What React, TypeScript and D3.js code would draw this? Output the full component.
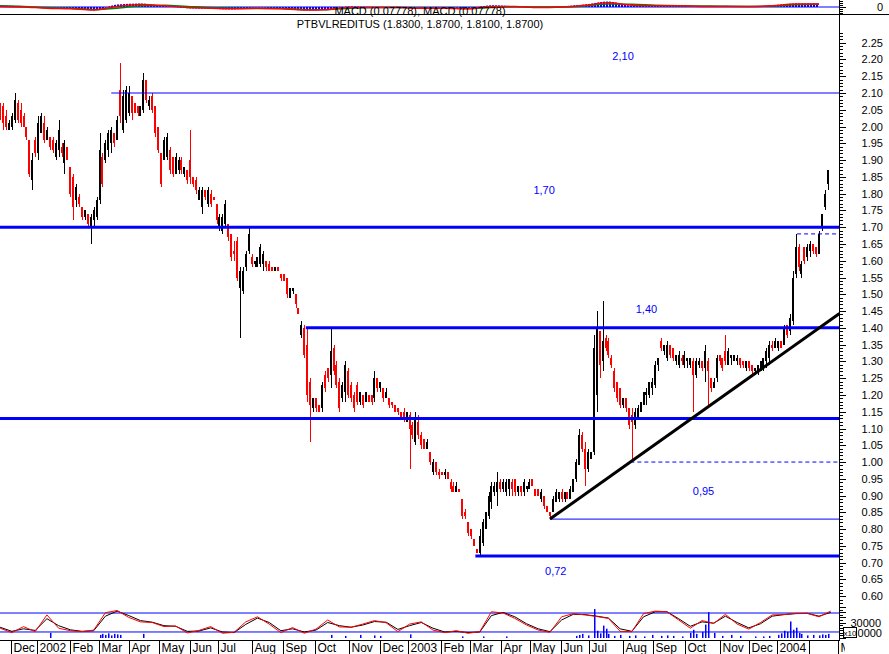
import React from "react";
import * as d3 from "d3";

// ---------- DATA ----------
// Two-day candles, [open, high, low, close] in cents, 22 Nov 2001 .. 19 Feb 2004
const bars: number[][] = [
[205,207,202,203],[206,207,199,201],[203,205,199,200],[199,202,199,201],[200,204,199,203],
[202,210,201,208],[207,208,201,202],[205,207,200,201],[203,204,200,200],[200,200,196,197],
[196,196,185,186],[184,192,181,190],[196,197,191,192],[192,203,190,201],[198,204,198,203],
[201,203,195,196],[196,200,196,199],[197,197,193,194],[196,197,192,193],[191,196,190,195],
[193,202,191,199],[194,195,191,192],[189,196,186,195],[194,194,190,190],[188,188,179,180],
[185,186,172,176],[178,183,176,182],[179,180,176,177],[176,176,172,173],[173,175,172,175],
[174,174,170,171],[170,174,165,173],[172,176,170,175],[173,179,172,178],[178,198,177,193],
[191,192,182,183],[190,196,189,195],[193,199,191,198],[195,200,192,199],[198,198,194,195],
[196,203,196,202],[211,219,201,203],[199,211,198,209],[202,212,201,211],[204,212,203,210],
[209,209,202,204],[207,207,204,204],[206,206,203,204],[203,206,203,206],[205,216,204,214],
[214,214,207,208],[206,209,205,208],[209,210,204,205],[206,206,197,198],[200,200,192,193],
[192,192,182,183],[190,197,190,196],[191,198,190,197],[193,194,186,187],[191,191,185,186],
[186,192,186,191],[187,191,186,190],[190,191,186,187],[186,188,185,188],[187,187,183,184],
[190,199,183,185],[185,185,182,183],[184,185,180,181],[178,182,178,181],[176,182,174,181],
[181,181,178,179],[177,182,176,181],[180,181,176,177],[179,179,178,178],[177,177,171,172],
[170,174,169,173],[169,174,168,173],[171,178,170,177],[171,171,166,167],[168,168,160,161],
[163,166,160,162],[166,167,154,155],[152,158,137,157],[151,158,150,157],[158,163,157,162],
[163,170,162,168],[161,162,158,159],[159,160,158,160],[158,161,158,161],[159,165,158,164],
[159,163,157,162],[160,160,157,158],[159,160,157,157],[158,158,157,157],[157,158,157,158],
[158,158,157,157],[156,156,154,155],[156,156,154,154],[155,155,149,150],[149,152,149,152],
[151,152,150,152],[150,150,146,147],[146,146,144,144],[138,142,137,141],[140,141,131,132],
[135,140,118,120],[124,125,106,117],[116,119,115,119],[119,119,115,116],[117,117,115,115],
[116,124,115,123],[126,127,121,122],[128,128,124,125],[126,140,122,133],[134,135,126,127],
[129,130,122,123],[124,125,115,116],[119,124,118,123],[121,130,118,129],[127,128,119,120],
[123,124,118,119],[120,121,115,116],[123,124,117,118],[118,121,117,121],[120,120,116,117],
[118,121,118,121],[120,120,118,118],[120,120,117,118],[119,127,118,125],[125,125,121,122],
[122,124,121,124],[122,122,118,119],[119,122,119,121],[119,119,116,117],[118,118,116,117],
[117,117,115,115],[116,116,114,115],[115,115,113,113],[115,116,112,113],[112,115,112,115],
[114,115,98,110],[111,112,107,108],[106,115,105,113],[112,114,107,108],[108,109,104,105],
[107,107,104,104],[104,107,104,106],[103,103,99,100],[97,101,96,100],[100,100,96,97],
[97,98,95,96],[97,97,96,96],[96,98,95,97],[97,97,95,95],[94,95,91,92],
[93,94,91,91],[91,94,91,93],[92,92,91,91],[89,89,83,84],[85,86,83,84],
[82,82,78,79],[80,80,77,78],[77,77,75,75],[74,74,73,73],[73,80,72,78],
[76,83,75,82],[80,85,80,85],[84,91,83,90],[88,94,86,93],[91,94,90,93],
[91,97,87,94],[94,95,91,92],[92,95,91,94],[91,95,90,94],[92,95,90,95],
[94,95,90,92],[95,95,90,91],[91,93,90,93],[93,93,90,91],[91,95,90,94],
[92,93,91,93],[92,95,92,94],[95,95,93,93],[92,92,90,90],[92,92,90,90],
[89,92,88,91],[90,90,86,87],[87,87,85,85],[85,85,83,84],[85,90,85,89],
[88,92,88,91],[89,91,88,91],[91,92,88,89],[89,91,88,91],[91,91,89,89],
[89,93,89,92],[91,95,91,95],[95,101,94,100],[99,110,99,108],[108,109,103,104],
[104,106,93,98],[98,104,97,103],[101,103,101,103],[103,138,102,134],[120,145,115,140],
[139,139,125,129],[130,148,127,136],[137,138,133,134],[136,137,131,132],[131,132,128,129],
[127,128,121,122],[124,124,118,119],[122,122,116,117],[117,119,116,119],[119,119,115,116],
[116,116,110,111],[114,116,100,112],[111,116,110,115],[113,117,113,116],[115,118,115,118],
[117,121,117,121],[120,122,117,121],[120,124,119,124],[122,125,120,124],[123,130,122,129],
[129,131,127,131],[136,137,133,134],[133,135,132,135],[131,136,130,135],[135,135,131,132],
[134,134,130,131],[130,132,129,132],[129,133,128,132],[131,132,129,130],[129,133,128,132],
[130,131,128,131],[129,131,128,131],[130,131,115,126],[126,131,125,130],[129,131,128,130],
[130,130,127,128],[128,135,124,133],[130,131,116,127],[125,125,121,122],[122,125,122,124],
[125,132,124,131],[132,132,129,130],[131,131,127,128],[133,138,129,130],[129,134,129,133],
[131,132,129,132],[130,132,130,132],[130,132,129,131],[131,131,128,129],[130,130,128,129],
[128,130,127,130],[130,130,127,128],[129,129,126,127],[127,128,126,128],[127,129,126,129],
[128,130,127,130],[128,131,127,131],[130,134,128,133],[131,136,129,135],[135,136,133,134],
[134,137,134,136],[134,136,133,136],[136,136,134,134],[135,141,135,140],[141,141,137,138],
[139,144,138,143],[142,157,141,155],[156,168,155,164],[164,165,157,158],[156,160,155,159],
[164,164,159,160],[161,165,160,164],[163,166,161,165],[165,165,162,163],[164,164,161,162],
[162,169,162,168],[170,174,169,174],[176,181,175,180],[183,187,181,187],
];
const firstBarDate = "2001-11-22";
const lastBarDate = "2004-02-19";

// sparse volume: [bar index, volume]
const volume: number[][] = [
[17,10000],[34,6000],[35,8000],[36,6000],[37,9000],[38,5000],[39,8000],[40,7000],[41,6000],[49,8000],
[113,6000],[118,4000],[123,6000],[128,5000],[130,4000],[140,7000],[158,3000],[165,3000],[173,3000],
[197,4000],[198,6000],[199,8000],[201,5000],[203,56000],[204,14000],[205,9000],[206,24000],[207,18000],
[208,8000],[210,4000],[212,6000],[215,4000],[217,5000],[220,3000],[223,6000],[226,4000],[228,5000],
[230,4000],[233,3000],[236,10000],[237,16000],[238,8000],[240,12000],[241,26000],[242,50000],[244,10000],
[247,4000],[250,6000],[253,4000],[258,3000],[261,3000],[263,4000],[266,6000],[267,9000],[268,14000],
[269,12000],[270,32000],[271,16000],[272,20000],[273,10000],[274,8000],[276,5000],[278,6000],[280,5000],
[281,7000],[282,6000],[283,8000],
];

// oscillator, every 4 bars
const oscRed = [32,18,37,21,74,32,24,21,26,81,88,66,52,50,37,39,17,25,37,16,19,52,68,45,18,34,16,29,58,36,35,45,56,49,21,45,52,26,18,24,16,21,84,80,63,42,26,19,68,78,74,69,63,22,21,78,86,84,58,32,56,47,76,45,29,50,74,75,79,79,68,86];
const oscBlack = [35,22,30,25,62,40,27,22,24,70,86,72,56,51,40,38,22,23,33,20,18,44,64,50,24,30,20,26,50,40,35,42,53,51,28,40,50,32,20,22,18,20,72,82,68,46,30,21,58,76,75,70,64,30,22,68,84,84,62,38,52,48,70,50,33,46,70,75,78,79,70,82];

// MACD, every 8 bars
const macdHist = [0.015,0.005,-0.005,-0.01,-0.03,0.02,0.03,0.01,-0.01,-0.015,-0.02,-0.005,-0.015,-0.03,-0.02,0.005,0,-0.005,-0.01,-0.005,-0.01,0.015,0.005,-0.005,0.005,0.02,0.045,0.01,0.015,0.01,0,0.01,0,0.015,0.03,0.03];
const macdLine = [0.005,0,-0.01,-0.015,-0.025,0.005,0.02,0.01,-0.005,-0.01,-0.015,-0.01,-0.015,-0.025,-0.02,-0.005,-0.005,-0.005,-0.01,-0.01,-0.015,0.005,0.005,-0.005,0,0.015,0.035,0.015,0.01,0.01,0.005,0.005,0.005,0.01,0.025,0.025];
const macdSignal = [0.01,0.005,-0.005,-0.01,-0.02,-0.01,0.01,0.015,0.005,-0.005,-0.01,-0.012,-0.012,-0.02,-0.022,-0.01,-0.005,-0.005,-0.008,-0.01,-0.012,-0.005,0.002,0,0,0.008,0.025,0.022,0.015,0.01,0.008,0.006,0.005,0.008,0.018,0.022];

// support / resistance levels: value, start bar, weight, dashed
const levels = [
  { v: 2.10, from: 38, w: 1, dash: false },
  { v: 1.70, from: -2, w: 3, dash: false },
  { v: 1.40, from: 104.5, w: 3, dash: false },
  { v: 1.13, from: -2, w: 3, dash: false },
  { v: 0.72, from: 162.5, w: 3, dash: false },
  { v: 0.83, from: 188, w: 1, dash: false },
  { v: 1.00, from: 215.5, w: 1, dash: true },
  { v: 1.68, from: 272.5, w: 1, dash: true },
];
const trend = [{ k: 188, v: 0.83 }, { k: 287, v: 1.443 }];
const levelLabels = [
  { t: "2,10", k: 213, p: 2.21 },
  { t: "1,70", k: 186, p: 1.81 },
  { t: "1,40", k: 221, p: 1.455 },
  { t: "0,95", k: 240.5, p: 0.915 },
  { t: "0,72", k: 190, p: 0.675 },
];

const holidays = ["2001-12-24","2001-12-25","2001-12-31","2002-01-01","2002-03-29","2002-04-01","2002-04-25","2002-05-01","2002-05-30","2002-06-10","2002-08-15","2002-12-24","2002-12-25","2002-12-31","2003-01-01","2003-04-18","2003-04-21","2003-04-25","2003-05-01","2003-06-10","2003-06-19","2003-08-15","2003-12-08","2003-12-24","2003-12-25","2003-12-31","2004-01-01"];
const monthNames = ["Jan","Feb","Mar","Apr","May","Jun","Jul","Aug","Sep","Oct","Nov","Dec"];
const title = "PTBVLREDITUS (1.8300, 1.8700, 1.8100, 1.8700)";
const macdTitle = "MACD (0.07778), MACD (0.07778)";

// ---------- CHART ----------
const W = 889, H = 654;
const AX = 839.5;
const FONT = "'Liberation Sans', Arial, sans-serif";
const BLUE = "#0000ff", RED = "#ff0000";

const fmt = d3.timeFormat("%Y-%m-%d");
const hol = new Set(holidays);
const days: Date[] = [];
for (let d = new Date(2001, 10, 1); d <= new Date(2004, 2, 31); d = d3.timeDay.offset(d, 1)) {
  const wd = d.getDay();
  if (wd === 0 || wd === 6 || hol.has(fmt(d))) continue;
  days.push(d);
}
const idx = (s: string) => days.findIndex((d) => fmt(d) >= s);

const xCal = d3.scaleLinear().domain([idx("2001-12-03"), idx("2004-02-02")]).range([10.5, 808.5]);
const xBar = d3.scaleLinear().domain([0, bars.length - 1]).range([xCal(idx(firstBarDate)), xCal(idx(lastBarDate))]);
const yP = d3.scaleLinear().domain([0.72, 2.10]).range([556, 93]);
const yV = d3.scaleLinear().domain([0, 30000]).range([638, 622.5]);
const yO = d3.scaleLinear().domain([0, 100]).range([638.3, 606.7]);
const yM = d3.scaleLinear().domain([-0.05, 0.05]).range([13, 1]);

// the month holding the last bar is left unlabeled, as in the source chart
const lastMonthKey = lastBarDate.slice(0, 7);
const months: { x: number; label: string }[] = [];
days.forEach((d, i) => {
  if (i > 0 && d.getMonth() !== days[i - 1].getMonth()) {
    const x = Math.round(xCal(i)) + 0.5;
    const key = fmt(d).slice(0, 7);
    const label = key === lastMonthKey ? "" : d.getMonth() === 0 ? String(d.getFullYear()) : monthNames[d.getMonth()];
    if (x > -5 && x < 846) months.push({ x, label });
  }
});

export default function App() {
  const oscLine = (arr: number[]) =>
    d3.line<number>().x((_, i) => xBar(i * 4)).y((v) => yO(v))(arr) || "";
  const mLine = (arr: number[]) =>
    d3.line<number>().x((_, i) => xBar(i * 8)).y((v) => yM(v)).curve(d3.curveMonotoneX)(arr) || "";
  const mArea = d3.area<number>().x((_, i) => xBar(i * 8)).y0(yM(0)).y1((v) => yM(v)).curve(d3.curveMonotoneX)(macdHist) || "";

  const priceTicks = d3.range(58, 229);
  const volTicks = d3.range(0, 65000, 5000);

  return (
    <div style={{ position: "absolute", left: 0, top: 0, width: W, height: H, background: "#fff" }}>
      <svg width={W} height={H} style={{ display: "block", fontFamily: FONT }}>
        <defs>
          <clipPath id="main"><rect x={0} y={15} width={AX} height={591} /></clipPath>
          <clipPath id="top"><rect x={0} y={0} width={AX} height={14} /></clipPath>
          <clipPath id="bot"><rect x={0} y={600} width={AX} height={40} /></clipPath>
          <clipPath id="months"><rect x={0} y={638} width={845} height={16} /></clipPath>
          <pattern id="histStripes" width={3} height={20} patternUnits="userSpaceOnUse">
            <rect x={0} y={0} width={2} height={20} fill={BLUE} />
          </pattern>
        </defs>
        <rect width={W} height={H} fill="#fff" />

        {/* MACD strip */}
        <g clipPath="url(#top)">
          <path d={mArea} fill="url(#histStripes)" />
          <line x1={0} x2={AX} y1={yM(0)} y2={yM(0)} stroke={BLUE} strokeWidth={1} />
          <path d={mLine(macdSignal)} fill="none" stroke="#008000" strokeWidth={1.5} />
          <path d={mLine(macdLine)} fill="none" stroke={RED} strokeWidth={1.5} />
        </g>
        <text x={420} y={14.5} fontSize={11} textAnchor="middle" fill="#000">{macdTitle}</text>
        <line x1={0} x2={W} y1={14.5} y2={14.5} stroke="#000" strokeWidth={1} />

        <text x={420} y={28} fontSize={11} textAnchor="middle" fill="#000">{title}</text>

        {/* main price panel */}
        <g clipPath="url(#main)" shapeRendering="crispEdges">
          {bars.map((b, k) => {
            const [o, h, l, c] = b.map((v) => v / 100);
            const cx = Math.round(xBar(k));
            const col = c >= o ? "#000" : RED;
            const yt = yP(Math.max(o, c)), yb = yP(Math.min(o, c));
            return (
              <g key={k} fill={col}>
                <rect x={cx} y={yP(h)} width={1} height={Math.max(1, yP(l) - yP(h))} />
                <rect x={cx - 1} y={yt} width={2} height={Math.max(1, yb - yt)} />
              </g>
            );
          })}
        </g>
        <g clipPath="url(#main)">
          {levels.map((lv, i) => (
            <line key={i} x1={Math.max(0, xBar(lv.from))} x2={AX} y1={yP(lv.v)} y2={yP(lv.v)}
              stroke={BLUE} strokeWidth={lv.w} strokeDasharray={lv.dash ? "4,3" : undefined} />
          ))}
          <line x1={xBar(trend[0].k)} y1={yP(trend[0].v)} x2={xBar(trend[1].k)} y2={yP(trend[1].v)}
            stroke="#000" strokeWidth={3} />
          {levelLabels.map((lb, i) => (
            <text key={i} x={xBar(lb.k)} y={yP(lb.p) + 4} fontSize={11} textAnchor="middle" fill={BLUE}>{lb.t}</text>
          ))}
        </g>

        {/* lower panel */}
        <g clipPath="url(#bot)">
          {volume.map(([k, v], i) => (
            <rect key={i} x={Math.round(xBar(k))} y={yV(v)} width={1.5} height={yV(0) - yV(v)} fill={BLUE} />
          ))}
          <line x1={0} x2={AX} y1={yO(80)} y2={yO(80)} stroke={BLUE} strokeWidth={1} />
          <line x1={0} x2={AX} y1={yO(20)} y2={yO(20)} stroke={BLUE} strokeWidth={1} />
          <path d={oscLine(oscBlack)} fill="none" stroke="#000" strokeWidth={1} />
          <path d={oscLine(oscRed)} fill="none" stroke={RED} strokeWidth={1} />
        </g>

        {/* right axis */}
        <g shapeRendering="crispEdges" stroke="#000">
          <line x1={AX} x2={AX} y1={0} y2={640} />
          {d3.range(1, 14, 2).map((y) => (
            <line key={"m" + y} x1={AX} x2={AX + (y === 7 ? 6 : 3)} y1={y + 0.5} y2={y + 0.5} />
          ))}
          {priceTicks.map((t) => (
            <line key={"p" + t} x1={AX} x2={AX + (t % 5 === 0 ? 6 : 3)} y1={Math.round(yP(t / 100)) + 0.5} y2={Math.round(yP(t / 100)) + 0.5} />
          ))}
          {volTicks.map((t) => (
            <line key={"v" + t} x1={AX} x2={AX + (t % 10000 === 0 ? 6 : 3)} y1={Math.round(yV(t)) + 0.5} y2={Math.round(yV(t)) + 0.5} />
          ))}
        </g>
        <text x={883} y={11} fontSize={11} textAnchor="end">0</text>
        {priceTicks.filter((t) => t % 5 === 0 && t >= 60 && t <= 225).map((t) => (
          <text key={t} x={883} y={yP(t / 100) + 4} fontSize={11} textAnchor="end">{d3.format(".2f")(t / 100)}</text>
        ))}
        <text x={881} y={yV(30000) + 4} fontSize={11} textAnchor="end">30000</text>
        <text x={882} y={yV(10000) + 4.5} fontSize={11} textAnchor="end">0000</text>
        <rect x={843.5} y={627.5} width={13} height={10} fill="#fff" stroke="#000" strokeWidth={1} />
        <text x={850} y={635.5} fontSize={8} textAnchor="middle">x10</text>

        {/* time axis */}
        <line x1={0} x2={AX} y1={640.5} y2={640.5} stroke="#000" shapeRendering="crispEdges" />
        <g clipPath="url(#months)">
          {months.map((m, i) => (
            <g key={i}>
              <line x1={m.x} x2={m.x} y1={640} y2={654} stroke="#000" shapeRendering="crispEdges" />
              {m.label && <text x={m.x + 2} y={652} fontSize={12} fill="#000">{m.label}</text>}
            </g>
          ))}
        </g>
      </svg>
    </div>
  );
}
